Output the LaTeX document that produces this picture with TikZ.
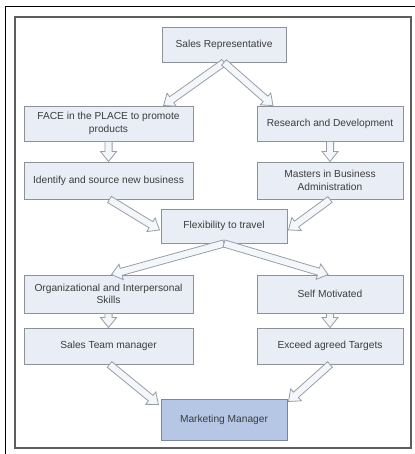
\documentclass[tikz,border=0pt]{standalone}
\usepackage{fontspec}
\setmainfont{Liberation Sans}
\usetikzlibrary{calc}

\definecolor{boxfill}{HTML}{E8EDF6}
\definecolor{boxline}{HTML}{8E9196}
\definecolor{goalfill}{HTML}{B5C7E4}
\definecolor{goalline}{HTML}{7D8796}
\definecolor{arrowfill}{HTML}{F3F6FB}
\definecolor{arrowline}{HTML}{9A9DA3}
\definecolor{textgray}{HTML}{3C3C3C}
\definecolor{framegray}{HTML}{5E5E5E}

\tikzset{
  stage/.style={draw=boxline, fill=boxfill, line width=0.9pt, inner sep=2pt,
    align=center, text=textgray, font=\fontsize{10.2}{12.5}\selectfont},
  goal/.style={stage, draw=goalline, fill=goalfill},
  % hollow block arrow from the start point to the target point
  flow/.style={draw=arrowline, fill=arrowfill, line width=0.8pt, line join=miter,
    to path={let \p1=(\tikztostart), \p2=(\tikztotarget),
      \n1={atan2(\y2-\y1,\x2-\x1)}, \n2={veclen(\x2-\x1,\y2-\y1)} in
      [shift={(\p1)}, rotate=\n1]
      (0,-3.6) -- (\n2-10,-3.6) -- (\n2-10,-8) -- (\n2,0) -- (\n2-10,8)
      -- (\n2-10,3.6) -- (0,3.6) -- cycle}}
}

\begin{document}
\begin{tikzpicture}[x=1pt, y=-1pt]
\useasboundingbox (0,0) rectangle (414,454);

% page frames
\draw[black, line width=1.3pt] (5.5,470) -- (5.5,6.5) -- (430,6.5);
\draw[framegray, line width=1.6pt] (15,17) rectangle (411,448);

% stages
\node[stage, minimum width=124pt, minimum height=35pt] (sr)   at (224,44.5) {Sales Representative};
\node[stage, minimum width=169pt, minimum height=35pt] (face) at (108.5,123.5) {FACE in the PLACE to promote\\products};
\node[stage, minimum width=146pt, minimum height=35pt] (rd)   at (330,123.5) {Research and Development};
\node[stage, minimum width=169pt, minimum height=37pt] (id)   at (108.5,180.5) {Identify and source new business};
\node[stage, minimum width=146pt, minimum height=37pt] (mba)  at (330,180.5) {Masters in Business\\Administration};
\node[stage, minimum width=126pt, minimum height=34pt] (flex) at (224,226) {Flexibility to travel};
\node[stage, minimum width=169pt, minimum height=38pt] (org)  at (108.5,294) {Organizational and Interpersonal\\Skills};
\node[stage, minimum width=146pt, minimum height=38pt] (self) at (330,294) {Self Motivated};
\node[stage, minimum width=169pt, minimum height=36pt] (stm)  at (108.5,346) {Sales Team manager};
\node[stage, minimum width=146pt, minimum height=36pt] (exc)  at (330,346) {Exceed agreed Targets};
\node[goal,  minimum width=126pt, minimum height=41pt] (mm)   at (224,419.5) {Marketing Manager};

% connectors
\draw[flow] (sr.south) to ([xshift=55]face.north);
\draw[flow] (sr.south) to ([xshift=-57]rd.north);
\draw[flow] (face.south) to (id.north);
\draw[flow] (rd.south) to (mba.north);
\draw[flow] ([xshift=1]id.south) to ([yshift=-4,xshift=-1]flex.west);
\draw[flow] (mba.south) to ([yshift=-4,xshift=1]flex.east);
\draw[flow] (flex.south) to ([xshift=3]org.north);
\draw[flow] (flex.south) to ([xshift=-2]self.north);
\draw[flow] (org.south) to (stm.north);
\draw[flow] (self.south) to (exc.north);
\draw[flow] ([xshift=1]stm.south) to ([yshift=-6,xshift=-2]mm.north west);
\draw[flow] (exc.south) to ([yshift=-3,xshift=1]mm.north east);
\end{tikzpicture}
\end{document}
